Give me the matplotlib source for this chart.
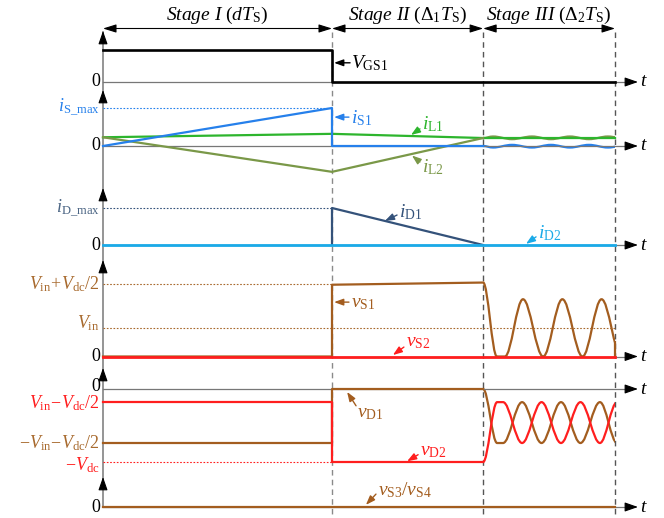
import matplotlib.pyplot as plt
from matplotlib.path import Path
from matplotlib.patches import PathPatch, Rectangle

plt.rcParams['font.family'] = 'Liberation Serif'
plt.rcParams['mathtext.fontset'] = 'custom'
plt.rcParams['mathtext.rm'] = 'Liberation Serif'
plt.rcParams['mathtext.it'] = 'Liberation Serif:italic'
plt.rcParams['mathtext.bf'] = 'Liberation Serif:bold'

# time axis (stage I = 10 units)
stage_t = [0.0, 10.0, 16.6, 22.36]
t_axis_end = 23.36
stage_labels = [r'$\mathit{Stage\ I}\ (dT_{\mathrm{S}})$',
                r'$\mathit{Stage\ II}\ (\Delta_1 T_{\mathrm{S}})$',
                r'$\mathit{Stage\ III}\ (\Delta_2 T_{\mathrm{S}})$']

# panel 1: gate signal
vgs_t = [0, 10, 10, 22.36]
vgs_v = [1, 1, 0, 0]

# panel 2: currents
is1_t = [0, 10, 10, 16.6]
is1_v = [0, 1.0, 0, 0]
rip_t = [16.6, 17.03, 17.86, 18.73, 19.56, 20.39, 21.22, 22.05, 22.9]
is1_rip = [0, -0.04, 0.03, -0.04, 0.03, -0.04, 0.03, -0.04, 0.03]
il1_t = [0, 10, 16.6, 22.36]
il1_v = [0.23, 0.32, 0.21, 0.21]
il2_t = [0, 10, 16.6]
il2_v = [0.23, -0.68, 0.21]
il2_rip = [0.21, 0.25, 0.18, 0.25, 0.18, 0.25, 0.18, 0.25, 0.18]

# panel 3: diode currents
id1_t = [10, 10, 16.6]
id1_v = [0, 1.0, 0]
id2_t = [0, 22.36]
id2_v = [0, 0]

# panel 4: switch voltages
vs1_t = [0, 10, 10, 16.6]
vs1_v = [0, 0, 0.99, 1.02]
vs1_osc_t = [16.6, 17.2, 17.55, 18.34, 19.22, 20.06, 20.94, 21.77, 22.64]
vs1_osc_v = [1.02, 0, 0, 0.79, 0, 0.79, 0, 0.79, 0]
vs1_end = 0.2
vs2_t = [0, 22.36]
vs2_v = [0, 0]
v_in = 0.39

# panel 5: diode voltages
vd1_t = [0, 10, 10, 16.6]
vd1_v = [-0.74, -0.74, 0, 0]
vd2_t = [0, 10, 10, 16.6]
vd2_v = [-0.18, -0.18, -1.0, -1.0]
vd_osc_t = [16.6, 17.21, 17.47, 18.3, 19.15, 20.0, 20.85, 21.7, 22.45]
vd1_osc = [0, -0.74, -0.74, -0.18, -0.74, -0.18, -0.74, -0.18, -0.74]
vd2_osc = [-1.0, -0.18, -0.18, -0.74, -0.18, -0.74, -0.18, -0.74, -0.18]

# panel 6
vs34_t = [0, 22.36]
vs34_v = [0, 0]

C_IS = '#2680EB'
C_IL1 = '#2DB52D'
C_IL2 = '#7A9848'
C_ID1 = '#34527A'
C_ID2 = '#1AAAE8'
C_BR = '#A35D1F'
C_BRL = '#A86A2E'
C_RED = '#FF1E1E'

W, H = 664, 518
X0, PX = 103, 22.9
xlim = (-X0 / PX, (W - X0) / PX)

fig = plt.figure(figsize=(6.64, 5.18), dpi=100)
bg = fig.add_axes([0, 0, 1, 1])
bg.set_xlim(xlim)
bg.set_ylim(H, 0)
bg.axis('off')


def panel(top, bot, zero, unit):
    ax = fig.add_axes([0, 1 - bot / H, 1, (bot - top) / H])
    ax.set_xlim(xlim)
    ax.set_ylim((zero - bot) / unit, (zero - top) / unit)
    ax.axis('off')
    return ax


def head(ax, tip, tail, color='black'):
    ax.annotate('', xy=tip, xytext=tail,
                arrowprops=dict(arrowstyle='-|>,head_length=0.8,head_width=0.28',
                                color=color, lw=0.8, shrinkA=0, shrinkB=0,
                                mutation_scale=10))


def note(ax, text, tip, tail, pos, color):
    ax.annotate('', xy=tip, xytext=tail,
                arrowprops=dict(arrowstyle='-|>,head_length=0.55,head_width=0.2',
                                color=color, lw=1.0, shrinkA=0, shrinkB=0,
                                mutation_scale=10))
    ax.text(pos[0], pos[1], text, color=color, fontsize=14, ha='left', va='center')


def smooth(ax, ts, vs, color, lw):
    verts = [(ts[0], vs[0])]
    codes = [Path.MOVETO]
    for i in range(len(ts) - 1):
        dx = ts[i + 1] - ts[i]
        verts += [(ts[i] + 0.36 * dx, vs[i]), (ts[i + 1] - 0.36 * dx, vs[i + 1]),
                  (ts[i + 1], vs[i + 1])]
        codes += [Path.CURVE4] * 3
    p = PathPatch(Path(verts, codes), fill=False, edgecolor=color, lw=lw,
                  joinstyle='round')
    ax.add_patch(p)
    p.set_clip_path(Rectangle((xlim[0], -10), stage_t[-1] - xlim[0], 20,
                              transform=ax.transData))


def left(ax, y, s, color='black', size=13):
    ax.text(-0.13, y, s, color=color, fontsize=size, ha='right', va='center')


# stage arrows, dashed boundaries, vertical axis
for i in range(3):
    a, b = stage_t[i], stage_t[i + 1]
    bg.annotate('', xy=(b, 28.5), xytext=(a, 28.5),
                arrowprops=dict(arrowstyle='<|-|>,head_length=0.8,head_width=0.25',
                                color='black', lw=0.8, shrinkA=0, shrinkB=0,
                                mutation_scale=10))
    bg.text((a + b) / 2, 15, stage_labels[i], fontsize=14, ha='center', va='center')
for t, c in zip(stage_t[1:], ['#8a8a8a', '#555555', '#555555']):
    bg.plot([t, t], [32, H], color=c, lw=1.0, ls=(0, (4, 3)))
bg.plot([0, 0], [507, 32], color='#8c8c8c', lw=1.3)
for tip in [31, 90, 188, 260, 368, 477]:
    head(bg, (0, tip), (0, tip + 12))

layout = [(28, 92, 82, 32), (88, 190, 146, 38), (186, 262, 245, 37),
          (258, 372, 356.5, 72.5), (366, 478, 389, 73), (476, 518, 507, 30)]
zero_pos = [0, 0, 0, 0, 0.03, 0]
axs = [panel(*L) for L in layout]
for ax, zp in zip(axs, zero_pos):
    ax.plot([0, t_axis_end - 0.3], [0, 0], color='#777777', lw=0.9)
    head(ax, (t_axis_end, 0), (t_axis_end - 0.5, 0))
    ax.text(t_axis_end + 0.1, 0, '$t$', fontsize=14, ha='left', va='center')
    left(ax, zp, '0', size=13)

# panel 1
ax = axs[0]
ax.plot(vgs_t, vgs_v, color='black', lw=1.9)
note(ax, r'$V_{\mathrm{GS1}}$', (10.09, 0.6), (10.79, 0.6), (10.85, 0.58), 'black')

# panel 2
ax = axs[1]
ax.plot([0, 10], [1, 1], color=C_IS, lw=0.8, ls=(0, (1.5, 1.5)))
ax.plot(il1_t, il1_v, color=C_IL1, lw=1.6)
ax.plot(il2_t, il2_v, color=C_IL2, lw=1.6)
smooth(ax, rip_t, il2_rip, C_IL2, 1.6)
ax.plot(is1_t, is1_v, color=C_IS, lw=1.6)
smooth(ax, rip_t, is1_rip, C_IS, 1.6)
left(ax, 1.03, r'$i_{\mathrm{S\_max}}$', C_IS)
note(ax, r'$i_{\mathrm{S1}}$', (10.09, 0.76), (10.74, 0.76), (10.83, 0.74), C_IS)
note(ax, r'$i_{\mathrm{L1}}$', (13.45, 0.29), (13.84, 0.45), (13.93, 0.58), C_IL1)
note(ax, r'$i_{\mathrm{L2}}$', (13.49, -0.25), (13.84, -0.42), (13.93, -0.55), C_IL2)

# panel 3
ax = axs[2]
ax.plot([0, 10], [1, 1], color=C_ID1, lw=0.8, ls=(0, (1.5, 1.5)))
ax.plot(id1_t, id1_v, color=C_ID1, lw=1.6)
ax.plot(id2_t, id2_v, color=C_ID2, lw=2.0)
left(ax, 1.0, r'$i_{\mathrm{D\_max}}$', '#4B6584')
note(ax, r'$i_{\mathrm{D1}}$', (12.31, 0.65), (12.84, 0.81), (12.93, 0.88), C_ID1)
note(ax, r'$i_{\mathrm{D2}}$', (18.47, 0.03), (18.91, 0.22), (19.0, 0.32), C_ID2)

# panel 4
ax = axs[3]
ax.plot([0, 10], [1, 1], color=C_BRL, lw=0.8, ls=(0, (1.5, 1.5)))
ax.plot([0, stage_t[-1]], [v_in, v_in], color=C_BRL, lw=0.8, ls=(0, (1.5, 1.5)))
ax.plot(vs1_t, vs1_v, color=C_BR, lw=1.6)
smooth(ax, vs1_osc_t, vs1_osc_v, C_BR, 1.6)
ax.plot([stage_t[-1]] * 2, [vs1_end, 0], color=C_BR, lw=1.6)
ax.plot(vs2_t, vs2_v, color=C_RED, lw=2.0)
left(ax, 1.0, r'$V_{\mathrm{in}}\!+\!V_{\mathrm{dc}}/2$', C_BRL)
left(ax, 0.46, r'$V_{\mathrm{in}}$', C_BRL)
note(ax, r'$v_{\mathrm{S1}}$', (10.09, 0.75), (10.74, 0.75), (10.83, 0.73), C_BR)
note(ax, r'$v_{\mathrm{S2}}$', (12.66, 0.02), (13.14, 0.13), (13.23, 0.19), C_RED)

# panel 5
ax = axs[4]
ax.plot([0, 10], [-1, -1], color=C_RED, lw=0.8, ls=(0, (1.5, 1.5)))
ax.plot(vd1_t, vd1_v, color=C_BR, lw=1.6)
ax.plot(vd2_t, vd2_v, color=C_RED, lw=1.6)
smooth(ax, vd_osc_t, vd1_osc, C_BR, 1.6)
smooth(ax, vd_osc_t, vd2_osc, C_RED, 1.6)
left(ax, -0.2, r'$V_{\mathrm{in}}\!-\!V_{\mathrm{dc}}/2$', C_RED)
left(ax, -0.74, r'$-V_{\mathrm{in}}\!-\!V_{\mathrm{dc}}/2$', C_BRL)
left(ax, -1.04, r'$-V_{\mathrm{dc}}$', C_RED)
note(ax, r'$v_{\mathrm{D1}}$', (10.66, -0.04), (11.05, -0.23), (11.09, -0.34), C_BR)
note(ax, r'$v_{\mathrm{D2}}$', (13.28, -0.99), (13.76, -0.9), (13.84, -0.85), C_RED)

# panel 6
ax = axs[5]
ax.plot(vs34_t, vs34_v, color=C_BR, lw=1.6)
note(ax, r'$v_{\mathrm{S3}}/v_{\mathrm{S4}}$', (11.48, 0.07), (11.92, 0.43), (12.0, 0.57), C_BR)

fig.savefig('out.png', dpi=100)
